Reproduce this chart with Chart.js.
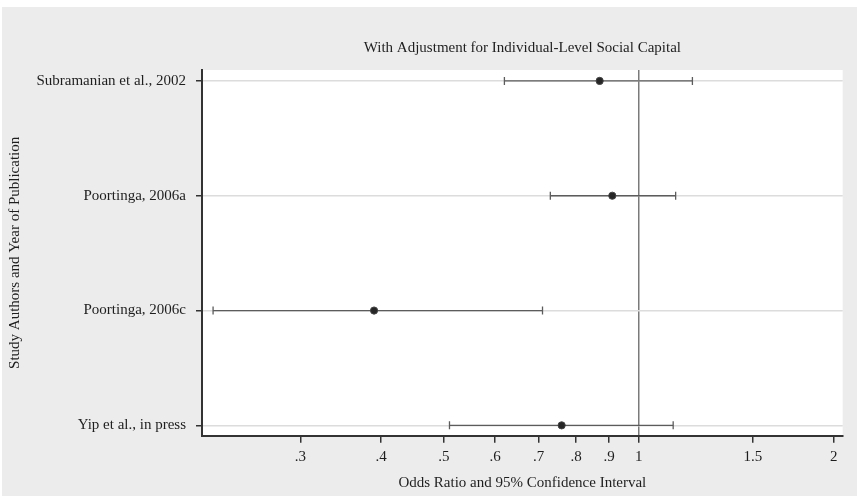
<!DOCTYPE html>
<html>
<head>
<meta charset="utf-8">
<script src="https://cdn.jsdelivr.net/npm/chart.js@4/dist/chart.umd.min.js"></script>
<style>
  html, body { margin: 0; padding: 0; background: #fff; }
  #wrap { width: 857px; height: 496px; }
</style>
</head>
<body>
<div id="wrap"><canvas id="myChart" width="857" height="496"></canvas></div>
<script>
// study rows, top to bottom
var studies = ['Subramanian et al., 2002', 'Poortinga, 2006a', 'Poortinga, 2006c', 'Yip et al., in press'];
var oddsRatio = [0.87, 0.91, 0.39, 0.76];
var ciLow = [0.62, 0.73, 0.22, 0.51];
var ciHigh = [1.21, 1.14, 0.71, 1.13];

// x axis ticks
var xTicks = [0.3, 0.4, 0.5, 0.6, 0.7, 0.8, 0.9, 1, 1.5, 2];
var xTickLabels = ['.3', '.4', '.5', '.6', '.7', '.8', '.9', '1', '1.5', '2'];

var serif = "'Liberation Serif', 'Times New Roman', serif";
Chart.defaults.font.family = serif;
Chart.defaults.font.size = 15;
Chart.defaults.color = '#1e1e1e';

var datasets = [];
// point estimates first so they draw on top
datasets.push({
  label: 'OR',
  data: oddsRatio.map(function(v, i) { return {x: v, y: i + 1}; }),
  showLine: false,
  pointStyle: 'circle',
  pointRadius: 3.6,
  pointBackgroundColor: '#262626',
  pointBorderColor: '#444',
  pointBorderWidth: 1
});
for (var i = 0; i < studies.length; i++) {
  datasets.push({
    label: 'CI ' + studies[i],
    data: [{x: ciLow[i], y: i + 1}, {x: ciHigh[i], y: i + 1}],
    showLine: true,
    borderColor: '#5c5c5c',
    borderWidth: 1.3,
    pointStyle: 'line',
    rotation: 90,
    pointRadius: 4,
    pointBorderColor: '#5c5c5c',
    pointBorderWidth: 1.3
  });
}

var bgPlugin = {
  id: 'bg',
  beforeDraw: function(chart) {
    var c = chart.ctx, a = chart.chartArea;
    c.save();
    c.fillStyle = '#ffffff';
    c.fillRect(0, 0, chart.width, chart.height);
    c.fillStyle = '#ececec';
    c.fillRect(2, 7, chart.width - 2, chart.height - 7);
    c.fillStyle = '#ffffff';
    c.fillRect(a.left, a.top, a.right - a.left, a.bottom - a.top);
    c.restore();
  }
};

var ctx = document.getElementById('myChart');
var myChart = new Chart(ctx, {
  type: 'scatter',
  data: { datasets: datasets },
  plugins: [bgPlugin],
  options: {
    responsive: false,
    animation: false,
    layout: { padding: { left: 0, right: 14.3, top: 0, bottom: 0 } },
    plugins: {
      legend: { display: false },
      tooltip: { enabled: false },
      title: {
        display: true,
        fullSize: false,
        text: 'With Adjustment for Individual-Level Social Capital',
        font: { size: 15, weight: 'normal', family: serif },
        color: '#1e1e1e',
        padding: { top: 39, bottom: 13 }
      }
    },
    scales: {
      x: {
        type: 'logarithmic',
        min: 0.2115,
        max: 2.065,
        afterBuildTicks: function(scale) {
          scale.ticks = xTicks.map(function(v) { return {value: v}; });
        },
        afterFit: function(scale) { scale.height = 60.3; },
        ticks: {
          autoSkip: false,
          maxRotation: 0,
          padding: 5,
          callback: function(value) {
            var k = xTicks.indexOf(value);
            return k >= 0 ? xTickLabels[k] : '';
          }
        },
        grid: {
          color: function(c) { return c.tick && c.tick.value === 1 ? '#7a7a7a' : 'rgba(0,0,0,0)'; },
          lineWidth: 1.5,
          tickColor: '#333',
          tickLength: 7
        },
        border: { color: '#333', width: 2 },
        title: {
          display: true,
          text: 'Odds Ratio and 95% Confidence Interval',
          padding: { top: 0, bottom: 4 }
        }
      },
      y: {
        type: 'linear',
        reverse: true,
        min: 0.905,
        max: 4.09,
        afterBuildTicks: function(scale) {
          scale.ticks = studies.map(function(s, i) { return {value: i + 1}; });
        },
        afterFit: function(scale) { scale.width = 202; },
        ticks: {
          padding: 10,
          callback: function(value) { return studies[value - 1] || ''; }
        },
        grid: {
          color: '#dcdcdc',
          lineWidth: 1.5,
          tickColor: '#333',
          tickLength: 6
        },
        border: { color: '#333', width: 2 },
        title: {
          display: true,
          text: 'Study Authors and Year of Publication',
          padding: { top: 6, bottom: 0 }
        }
      }
    }
  }
});
</script>
</body>
</html>
